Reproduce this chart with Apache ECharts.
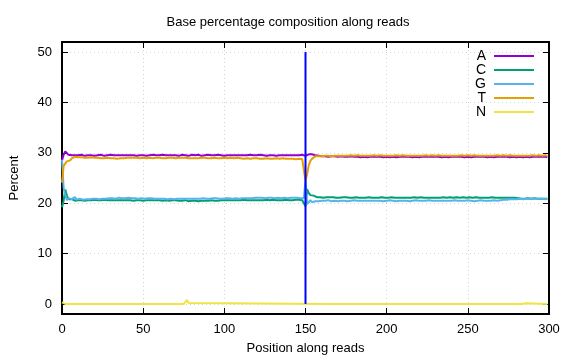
<!DOCTYPE html>
<html>
<head>
<meta charset="utf-8">
<script src="https://cdn.jsdelivr.net/npm/echarts@6/dist/echarts.min.js"></script>
<style>html,body{margin:0;padding:0;background:#fff;}#c{width:576px;height:360px;}</style>
</head>
<body>
<div id="c"></div>
<script>
var seriesNames = ['A', 'C', 'G', 'T', 'N'];
var xTicks = [0, 50, 100, 150, 200, 250, 300];
var yTicks = [0, 10, 20, 30, 40, 50];

var valuesA = [
28.5,29.6,30.3,30.0,29.6,29.4,29.5,29.6,29.5,29.4,
29.5,29.5,29.6,29.5,29.4,29.5,29.5,29.6,29.5,29.5,
29.4,29.5,29.5,29.5,29.6,29.5,29.4,29.5,29.5,29.5,
29.6,29.5,29.5,29.4,29.5,29.5,29.5,29.6,29.5,29.4,
29.5,29.5,29.5,29.6,29.5,29.5,29.4,29.5,29.5,29.6,
29.5,29.5,29.4,29.5,29.5,29.5,29.6,29.5,29.5,29.4,
29.5,29.5,29.6,29.5,29.5,29.4,29.5,29.5,29.5,29.6,
29.5,29.5,29.4,29.5,29.6,29.5,29.5,29.5,29.4,29.5,
29.6,29.5,29.5,29.5,29.6,29.5,29.4,29.5,29.5,29.5,
29.6,29.5,29.5,29.4,29.5,29.5,29.6,29.5,29.5,29.5,
29.4,29.5,29.5,29.6,29.5,29.5,29.5,29.4,29.5,29.6,
29.5,29.5,29.5,29.4,29.5,29.5,29.6,29.5,29.5,29.4,
29.5,29.5,29.6,29.5,29.5,29.5,29.4,29.5,29.5,29.6,
29.5,29.5,29.4,29.5,29.5,29.6,29.5,29.5,29.5,29.4,
29.5,29.6,29.5,29.5,29.5,29.6,29.5,29.5,29.6,29.5,
29.4,29.5,29.7,29.9,29.7,29.4,29.5,29.3,29.4,29.3,
29.3,29.4,29.3,29.3,29.2,29.3,29.3,29.2,29.3,29.3,
29.2,29.3,29.3,29.2,29.2,29.3,29.2,29.2,29.3,29.2,
29.2,29.3,29.2,29.2,29.1,29.2,29.2,29.2,29.1,29.2,
29.2,29.1,29.2,29.2,29.2,29.1,29.2,29.2,29.1,29.2,
29.2,29.2,29.1,29.2,29.2,29.2,29.1,29.2,29.2,29.1,
29.2,29.2,29.2,29.1,29.2,29.2,29.1,29.2,29.2,29.2,
29.1,29.2,29.2,29.1,29.2,29.2,29.2,29.1,29.2,29.2,
29.2,29.1,29.2,29.2,29.1,29.2,29.2,29.2,29.1,29.2,
29.2,29.1,29.2,29.2,29.2,29.1,29.2,29.2,29.1,29.2,
29.2,29.2,29.1,29.2,29.2,29.1,29.2,29.2,29.2,29.1,
29.2,29.2,29.1,29.2,29.2,29.2,29.1,29.2,29.2,29.1,
29.2,29.2,29.2,29.1,29.2,29.2,29.1,29.2,29.2,29.2,
29.1,29.2,29.2,29.2,29.1,29.2,29.2,29.2,29.1,29.2,
29.2,29.1,29.2,29.2,29.2,29.1,29.2,29.2,29.2,29.1
];

var valuesC = [
19.2,20.5,22.7,21.5,20.8,20.5,20.8,20.6,20.5,20.6,
20.6,20.5,20.6,20.6,20.5,20.6,20.6,20.7,20.6,20.6,
20.7,20.6,20.6,20.7,20.6,20.6,20.7,20.6,20.6,20.6,
20.6,20.7,20.6,20.6,20.6,20.5,20.6,20.6,20.6,20.5,
20.6,20.5,20.6,20.6,20.5,20.6,20.6,20.5,20.6,20.6,
20.5,20.6,20.6,20.6,20.6,20.5,20.6,20.6,20.6,20.5,
20.6,20.6,20.5,20.6,20.6,20.6,20.5,20.6,20.6,20.5,
20.6,20.5,20.5,20.6,20.5,20.5,20.6,20.5,20.4,20.5,
20.5,20.4,20.5,20.5,20.4,20.5,20.5,20.4,20.5,20.5,
20.5,20.5,20.6,20.5,20.5,20.6,20.5,20.6,20.6,20.5,
20.6,20.6,20.6,20.5,20.6,20.6,20.6,20.7,20.6,20.6,
20.6,20.6,20.7,20.6,20.6,20.7,20.6,20.6,20.6,20.7,
20.6,20.6,20.6,20.7,20.6,20.6,20.7,20.6,20.6,20.6,
20.7,20.6,20.6,20.7,20.6,20.7,20.6,20.6,20.7,20.6,
20.6,20.7,20.6,20.6,20.7,20.6,20.7,20.6,20.6,20.7,
19.4,22.8,22.0,21.6,21.4,21.5,21.3,21.2,21.3,21.2,
21.2,21.1,21.2,21.2,21.1,21.2,21.1,21.2,21.2,21.1,
21.2,21.1,21.1,21.2,21.1,21.2,21.2,21.1,21.2,21.1,
21.1,21.2,21.1,21.1,21.2,21.1,21.2,21.1,21.1,21.2,
21.1,21.1,21.2,21.1,21.2,21.1,21.1,21.2,21.1,21.1,
21.2,21.1,21.1,21.2,21.1,21.1,21.2,21.1,21.1,21.1,
21.2,21.1,21.1,21.1,21.2,21.1,21.1,21.2,21.1,21.1,
21.1,21.2,21.1,21.1,21.2,21.1,21.1,21.1,21.2,21.1,
21.1,21.1,21.2,21.1,21.1,21.2,21.1,21.1,21.1,21.2,
21.1,21.1,21.1,21.2,21.1,21.1,21.1,21.2,21.1,21.1,
21.1,21.2,21.1,21.1,21.1,21.2,21.1,21.1,21.1,21.1,
21.2,21.1,21.1,21.1,21.1,21.2,21.1,21.1,21.1,21.1,
21.1,21.1,21.2,21.1,21.1,21.1,21.1,21.1,21.0,21.1,
21.0,21.0,21.1,20.9,21.0,20.9,20.9,21.0,20.9,20.9,
20.9,21.0,20.9,20.9,20.9,20.9,21.0,20.9,20.9,20.9
];

var valuesG = [
28.6,23.0,21.6,20.6,21.0,21.3,20.8,20.9,21.2,20.7,
20.8,20.9,20.8,20.7,20.8,20.8,20.9,20.8,20.8,20.9,
20.8,20.9,20.9,20.8,20.9,20.9,21.0,20.9,20.9,21.0,
20.9,21.0,21.0,20.9,21.0,21.1,21.0,21.0,21.1,21.0,
21.0,21.1,21.0,21.0,21.1,21.0,21.0,20.9,21.0,21.0,
21.0,20.9,21.0,21.0,20.9,21.0,20.9,20.9,21.0,20.9,
20.9,20.9,21.0,20.9,20.9,20.8,20.9,20.9,20.9,20.8,
20.9,20.9,20.8,20.9,20.9,20.9,20.8,20.9,20.9,20.9,
20.8,20.9,20.9,20.9,21.0,20.9,20.9,21.0,20.9,20.9,
21.0,20.9,20.9,21.0,20.9,21.0,21.0,20.9,21.0,20.9,
21.0,21.0,20.9,21.0,21.0,20.9,21.0,21.0,21.0,20.9,
21.0,21.0,21.1,21.0,21.0,21.0,21.1,21.0,21.0,21.1,
21.0,21.1,21.0,21.1,21.1,21.0,21.1,21.1,21.0,21.1,
21.1,21.0,21.1,21.1,21.1,21.0,21.1,21.1,21.1,21.0,
21.1,21.1,21.0,21.1,21.1,21.1,21.1,21.0,21.1,21.0,
24.5,19.8,20.0,20.6,20.2,20.5,20.4,20.5,20.4,20.5,
20.5,20.4,20.5,20.5,20.6,20.5,20.4,20.5,20.5,20.5,
20.4,20.5,20.5,20.6,20.5,20.5,20.4,20.5,20.5,20.5,
20.6,20.5,20.5,20.4,20.5,20.5,20.5,20.6,20.5,20.5,
20.5,20.4,20.5,20.5,20.5,20.6,20.5,20.5,20.4,20.5,
20.5,20.5,20.6,20.5,20.5,20.5,20.4,20.5,20.5,20.5,
20.5,20.6,20.5,20.5,20.4,20.5,20.5,20.5,20.6,20.5,
20.5,20.4,20.5,20.5,20.5,20.5,20.6,20.5,20.5,20.4,
20.5,20.5,20.5,20.6,20.5,20.5,20.5,20.4,20.5,20.5,
20.5,20.5,20.6,20.5,20.5,20.4,20.5,20.5,20.5,20.5,
20.6,20.5,20.5,20.5,20.4,20.5,20.5,20.5,20.6,20.5,
20.5,20.5,20.5,20.4,20.5,20.5,20.6,20.5,20.5,20.5,
20.6,20.6,20.7,20.7,20.7,20.8,20.8,20.8,20.8,20.9,
20.8,20.9,20.9,20.9,20.8,20.9,20.9,20.9,20.9,20.8,
20.9,20.9,20.9,20.8,20.9,20.9,20.9,20.9,20.8,20.9
];

var valuesT = [
24.1,27.4,27.6,28.3,28.6,28.5,28.9,29.1,29.2,29.1,
29.1,29.0,29.1,29.1,29.0,29.1,29.0,29.0,29.1,29.0,
29.0,28.9,29.0,29.0,28.9,29.0,28.9,28.9,29.0,28.9,
28.9,28.8,28.9,28.9,28.8,28.9,28.9,29.0,28.9,29.0,
29.0,28.9,29.0,29.0,29.0,28.9,29.0,29.0,28.9,29.0,
29.0,29.0,28.9,29.0,29.0,29.0,28.9,29.0,29.0,28.9,
29.0,29.0,28.9,29.0,28.9,29.0,29.0,28.9,29.0,29.0,
28.9,29.0,29.0,28.9,29.0,28.9,29.0,29.0,28.9,29.0,
28.9,29.0,28.9,29.0,28.9,28.9,29.0,28.9,29.0,28.9,
28.9,29.0,28.9,28.9,29.0,28.9,28.9,29.0,28.9,28.9,
29.0,28.9,28.9,28.9,29.0,28.9,28.9,28.9,29.0,28.9,
28.9,28.9,28.8,28.9,28.9,28.9,28.8,28.9,28.9,28.8,
28.9,28.9,28.8,28.9,28.8,28.9,28.9,28.8,28.8,28.9,
28.8,28.8,28.9,28.8,28.8,28.8,28.9,28.8,28.8,28.7,
28.8,28.7,28.8,28.7,28.7,28.7,28.8,28.7,28.7,28.7,
24.5,25.8,27.5,28.4,28.8,29.1,29.3,29.2,29.3,29.4,
29.3,29.4,29.4,29.3,29.4,29.4,29.3,29.4,29.4,29.4,
29.4,29.5,29.4,29.4,29.4,29.5,29.4,29.4,29.5,29.4,
29.4,29.4,29.5,29.4,29.4,29.5,29.4,29.4,29.4,29.5,
29.4,29.4,29.5,29.4,29.4,29.4,29.5,29.4,29.4,29.5,
29.4,29.4,29.4,29.5,29.4,29.4,29.5,29.4,29.4,29.4,
29.5,29.4,29.4,29.5,29.4,29.4,29.4,29.5,29.4,29.4,
29.4,29.5,29.4,29.4,29.5,29.4,29.4,29.4,29.5,29.4,
29.4,29.4,29.5,29.4,29.4,29.5,29.4,29.4,29.4,29.5,
29.4,29.4,29.4,29.5,29.4,29.4,29.5,29.4,29.4,29.4,
29.5,29.4,29.4,29.4,29.5,29.4,29.4,29.5,29.4,29.4,
29.4,29.5,29.4,29.4,29.4,29.5,29.4,29.4,29.5,29.4,
29.4,29.4,29.5,29.4,29.4,29.4,29.5,29.4,29.4,29.5,
29.4,29.4,29.4,29.5,29.4,29.4,29.4,29.5,29.4,29.4,
29.5,29.4,29.4,29.4,29.5,29.4,29.4,29.4,29.5,29.4
];

var positionsN = [0, 1, 2, 75, 76, 77, 78, 79, 165, 166, 167, 173, 174, 175, 283, 284, 286, 287, 299];
var valuesN    = [0.3, 0.05, 0, 0, 0.2, 0.8, 0.2, 0, 0, 0.2, 0, 0, 0.3, 0, 0, 0.15, 0.15, 0, 0];

var boundaryX = [150, 150];
var boundaryY = [0, 50];

var colors = ['#9400d3', '#009e73', '#56b4e9', '#e69f00', '#f0e442'];
var FONT = 'Liberation Sans, Arial, sans-serif';

function toPairs(vals) { return vals.map(function (v, i) { return [i, v]; }); }
function zipPairs(xs, ys) { return xs.map(function (x, i) { return [x, ys[i]]; }); }

var chart = echarts.init(document.getElementById('c'), null, { renderer: 'canvas' });

function lineSeries(name, data, color, z) {
  return {
    name: name, type: 'line', data: data, showSymbol: false, symbol: 'none',
    lineStyle: { color: color, width: 2 }, itemStyle: { color: color },
    animation: false, z: z || 2, clip: true
  };
}

var seriesList = [
  lineSeries(seriesNames[0], toPairs(valuesA), colors[0]),
  lineSeries(seriesNames[1], toPairs(valuesC), colors[1]),
  lineSeries(seriesNames[2], toPairs(valuesG), colors[2]),
  lineSeries(seriesNames[3], toPairs(valuesT), colors[3]),
  lineSeries(seriesNames[4], zipPairs(positionsN, valuesN), colors[4]),
  {
    name: 'boundary', type: 'line', data: zipPairs(boundaryX, boundaryY),
    showSymbol: false, symbol: 'none', lineStyle: { color: '#0000ff', width: 2 },
    animation: false, z: 3
  }
];

var axisText = { color: '#000', fontFamily: FONT, fontSize: 13 };

chart.setOption({
  backgroundColor: '#fff',
  animation: false,
  title: {
    text: 'Base percentage composition along reads',
    left: 'center', top: 11,
    textStyle: { fontFamily: FONT, fontSize: 13, fontWeight: 'normal', color: '#000' }
  },
  legend: {
    data: seriesNames,
    orient: 'vertical', right: 37, top: 44, align: 'right',
    icon: 'rect', itemWidth: 40, itemHeight: 2, itemGap: 0,
    textStyle: { fontFamily: FONT, fontSize: 14, color: '#000', lineHeight: 14, padding: [0, 3, 0, 0] },
    selectedMode: false
  },
  grid: { left: 61, right: 27, top: 42, bottom: 45, containLabel: false },
  xAxis: [{
    type: 'value', min: xTicks[0], max: xTicks[xTicks.length - 1], interval: 50,
    name: 'Position along reads', nameLocation: 'middle', nameGap: 28,
    nameTextStyle: { fontFamily: FONT, fontSize: 13, color: '#000' },
    axisLine: { show: true, onZero: false, lineStyle: { color: '#000', width: 2 } },
    axisTick: { show: true, inside: true, length: 6, lineStyle: { color: '#000', width: 1 } },
    axisLabel: Object.assign({ margin: 9 }, axisText),
    splitLine: { show: true, lineStyle: { color: '#d4d4d4', type: [1, 3], width: 1 } }
  }, {
    type: 'value', position: 'top', min: xTicks[0], max: xTicks[xTicks.length - 1], interval: 50,
    axisLine: { show: true, onZero: false, lineStyle: { color: '#000', width: 2 } },
    axisTick: { show: true, inside: true, length: 6, lineStyle: { color: '#000', width: 1 } },
    axisLabel: { show: false }, splitLine: { show: false }
  }],
  yAxis: [{
    type: 'value', min: -2, max: 52,
    name: 'Percent', nameLocation: 'middle', nameGap: 41,
    nameTextStyle: { fontFamily: FONT, fontSize: 13, color: '#000' },
    axisLine: { show: true, onZero: false, lineStyle: { color: '#000', width: 2 } },
    axisTick: { show: true, inside: true, length: 6, customValues: yTicks, lineStyle: { color: '#000', width: 1 } },
    axisLabel: Object.assign({ margin: 10, customValues: yTicks }, axisText),
    splitLine: { show: true, lineStyle: { color: '#d4d4d4', type: [1, 3], width: 1 } },
    interval: 10
  }, {
    type: 'value', position: 'right', min: -2, max: 52,
    axisLine: { show: true, onZero: false, lineStyle: { color: '#000', width: 2 } },
    axisTick: { show: true, inside: true, length: 6, customValues: yTicks, lineStyle: { color: '#000', width: 1 } },
    axisLabel: { show: false }, splitLine: { show: false }
  }],
  series: seriesList
});
</script>
</body>
</html>
